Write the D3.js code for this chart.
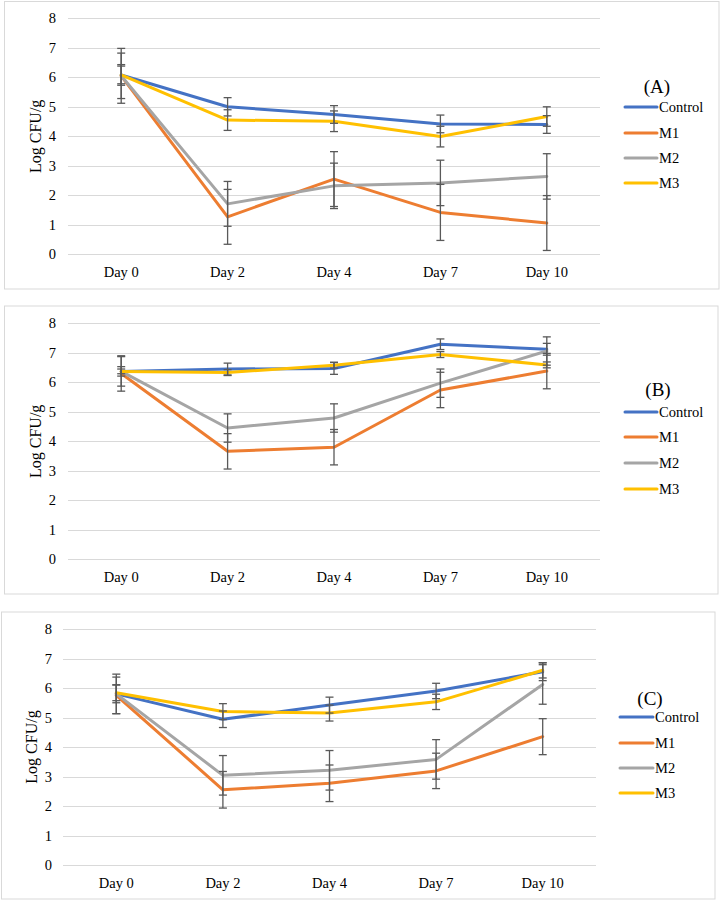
<!DOCTYPE html>
<html>
<head>
<meta charset="utf-8">
<script src="https://cdn.jsdelivr.net/npm/d3@7"></script>
<style>
  html, body { margin: 0; padding: 0; background: #fff; }
  svg { display: block; }
</style>
</head>
<body>
<script>
// ---------- data ----------
const categories = ["Day 0", "Day 2", "Day 4", "Day 7", "Day 10"];
const seriesNames = ["Control", "M1", "M2", "M3"];
const seriesColors = ["#4472C4", "#ED7D31", "#A5A5A5", "#FFC000"];
const yTicks = [0, 1, 2, 3, 4, 5, 6, 7, 8];
const panelLabels = ["(A)", "(B)", "(C)"];

// Panel A
const A_Control = [6.08, 5.00, 4.74, 4.42, 4.40];
const A_ControlErr = [0.30, 0.31, 0.30, 0.30, 0.30];
const A_M1 = [6.05, 1.27, 2.55, 1.42, 1.06];
const A_M1Err = [0.93, 0.93, 0.93, 0.95, 0.93];
const A_M2 = [6.05, 1.71, 2.32, 2.42, 2.64];
const A_M2Err = [0.77, 0.76, 0.77, 0.77, 0.77];
const A_M3 = [6.08, 4.55, 4.51, 3.99, 4.67];
const A_M3Err = [0.35, 0.35, 0.35, 0.35, 0.33];

// Panel B
const B_Control = [6.37, 6.45, 6.47, 7.29, 7.12];
const B_ControlErr = [0.16, 0.20, 0.20, 0.18, 0.20];
const B_M1 = [6.30, 3.66, 3.80, 5.74, 6.38];
const B_M1Err = [0.60, 0.60, 0.60, 0.60, 0.60];
const B_M2 = [6.37, 4.45, 4.79, 5.97, 7.06];
const B_M2Err = [0.50, 0.48, 0.48, 0.48, 0.48];
const B_M3 = [6.37, 6.33, 6.58, 6.94, 6.59];
const B_M3Err = [0.08, 0.10, 0.10, 0.10, 0.10];

// Panel C
const C_Control = [5.80, 4.94, 5.42, 5.90, 6.55];
const C_ControlErr = [0.30, 0.28, 0.27, 0.26, 0.30];
const C_M1 = [5.75, 2.55, 2.77, 3.19, 4.35];
const C_M1Err = [0.62, 0.62, 0.62, 0.60, 0.61];
const C_M2 = [5.80, 3.04, 3.21, 3.58, 6.12];
const C_M2Err = [0.67, 0.67, 0.67, 0.67, 0.67];
const C_M3 = [5.84, 5.20, 5.15, 5.53, 6.60];
const C_M3Err = [0.27, 0.27, 0.27, 0.26, 0.26];

// ---------- layout (not data) ----------
const FONT = "'Liberation Serif', 'Times New Roman', Times, serif";
const panels = [
  { label: panelLabels[0], vals: [A_Control, A_M1, A_M2, A_M3], errs: [A_ControlErr, A_M1Err, A_M2Err, A_M3Err],
    box: [4.5, 1.5, 719, 289], plot: [68, 600, 18.3, 254.3], tickX: 56, titleX: 35, catY: 277,
    legLabel: [657, 93], legLine: [625, 657], legY: [107, 133, 158, 183] },
  { label: panelLabels[1], vals: [B_Control, B_M1, B_M2, B_M3], errs: [B_ControlErr, B_M1Err, B_M2Err, B_M3Err],
    box: [4.5, 306, 718, 594], plot: [68, 600, 323.3, 559.3], tickX: 56, titleX: 35, catY: 582,
    legLabel: [658, 396], legLine: [625, 657], legY: [412, 437, 463, 489] },
  { label: panelLabels[2], vals: [C_Control, C_M1, C_M2, C_M3], errs: [C_ControlErr, C_M1Err, C_M2Err, C_M3Err],
    box: [1.5, 612, 715, 899], plot: [63, 596, 629, 865], tickX: 52, titleX: 31, catY: 888,
    legLabel: [650, 705], legLine: [620, 653], legY: [717, 743, 768, 793] }
];

const W = 721, H = 901;
const svg = d3.select("body").append("svg").attr("width", W).attr("height", H)
  .attr("font-family", FONT).style("font-family", FONT);

panels.forEach(p => {
  const g = svg.append("g");
  const [bx0, by0, bx1, by1] = p.box;
  g.append("rect").attr("x", bx0).attr("y", by0).attr("width", bx1 - bx0).attr("height", by1 - by0)
    .attr("fill", "#fff").attr("stroke", "#d9d9d9").attr("stroke-width", 1);

  const [px0, px1, py8, py0] = p.plot;
  const x = d3.scaleBand().domain(categories).range([px0, px1]);
  const y = d3.scaleLinear().domain([0, 8]).range([py0, py8]);

  // gridlines
  g.selectAll(".grid").data(yTicks).join("line")
    .attr("x1", px0).attr("x2", px1)
    .attr("y1", d => Math.round(y(d)) + 0.5).attr("y2", d => Math.round(y(d)) + 0.5)
    .attr("stroke", "#d9d9d9").attr("stroke-width", 1);

  // y tick labels
  g.selectAll(".yt").data(yTicks).join("text")
    .attr("x", p.tickX).attr("y", d => y(d)).attr("dy", "0.35em")
    .attr("text-anchor", "end").style("font-family", FONT).style("font-size", "14.5px").text(d => d);

  // x category labels
  g.selectAll(".xt").data(categories).join("text")
    .attr("x", d => x(d) + x.bandwidth() / 2).attr("y", p.catY)
    .attr("text-anchor", "middle").style("font-family", FONT).style("font-size", "14.5px").text(d => d);

  // y title
  const cy = (py0 + py8) / 2;
  g.append("text").attr("transform", `translate(${p.titleX},${cy}) rotate(-90)`)
    .attr("text-anchor", "middle").attr("dy", "0.35em")
    .style("font-family", FONT).style("font-size", "16px").text("Log CFU/g");

  const cx = d => x(d) + x.bandwidth() / 2;
  const line = d3.line().x((d, i) => cx(categories[i])).y(d => y(d));

  // lines
  p.vals.forEach((vals, si) => {
    g.append("path").datum(vals).attr("d", line)
      .attr("fill", "none").attr("stroke", seriesColors[si]).attr("stroke-width", 3)
      .attr("stroke-linejoin", "round").attr("stroke-linecap", "round");
  });

  // error bars
  p.vals.forEach((vals, si) => {
    const errs = p.errs[si];
    vals.forEach((v, i) => {
      const xc = cx(categories[i]);
      const hi = y(v + errs[i]), lo = y(v - errs[i]);
      g.append("line").attr("x1", xc).attr("x2", xc).attr("y1", hi).attr("y2", lo)
        .attr("stroke", "#595959").attr("stroke-width", 1.3);
      [hi, lo].forEach(yy => {
        g.append("line").attr("x1", xc - 4).attr("x2", xc + 4).attr("y1", yy).attr("y2", yy)
          .attr("stroke", "#595959").attr("stroke-width", 1.3);
      });
    });
  });

  // legend
  g.append("text").attr("x", p.legLabel[0]).attr("y", p.legLabel[1])
    .attr("text-anchor", "middle").style("font-family", FONT).style("font-size", "19px").text(p.label);
  seriesNames.forEach((name, si) => {
    const ly = p.legY[si];
    g.append("line").attr("x1", p.legLine[0]).attr("x2", p.legLine[1]).attr("y1", ly).attr("y2", ly)
      .attr("stroke", seriesColors[si]).attr("stroke-width", 3).attr("stroke-linecap", "round");
    g.append("text").attr("x", p.legLine[1] + 2).attr("y", ly).attr("dy", "0.35em")
      .style("font-family", FONT).style("font-size", "14.5px").text(name);
  });
});
</script>
</body>
</html>
